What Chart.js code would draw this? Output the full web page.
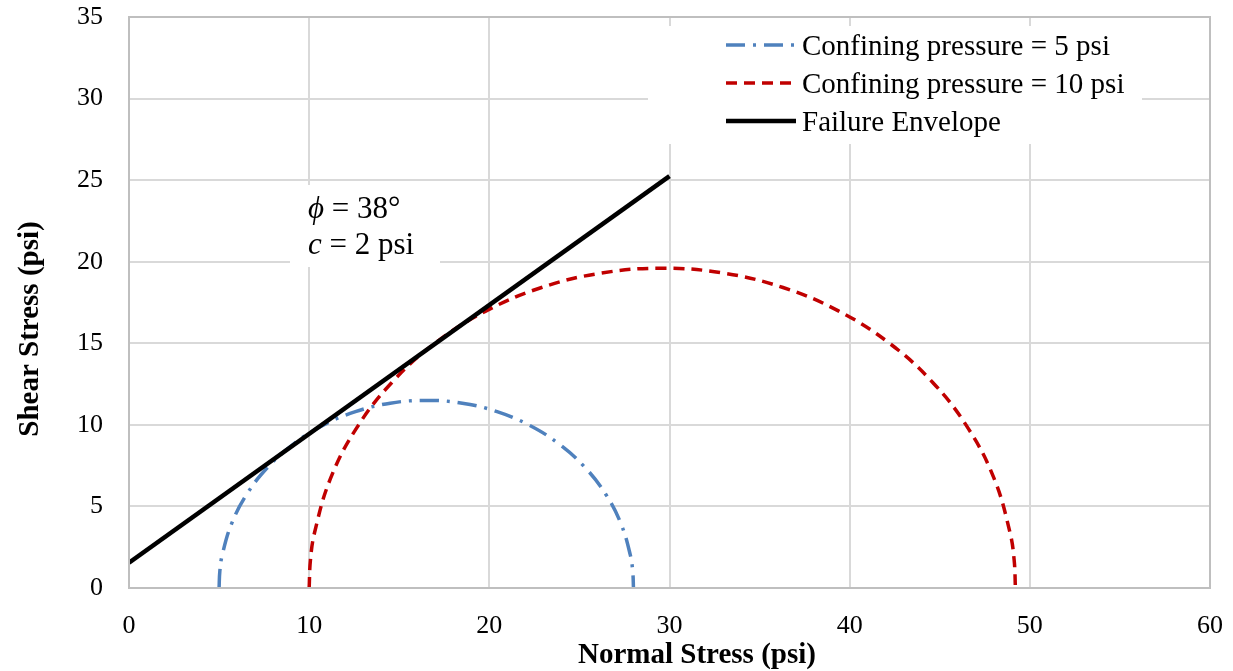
<!DOCTYPE html>
<html>
<head>
<meta charset="utf-8">
<script src="https://cdn.jsdelivr.net/npm/chart.js@4.4.1/dist/chart.umd.min.js"></script>
<style>
  html, body { margin: 0; padding: 0; background: #fff; }
  #wrap { width: 1233px; height: 671px; }
</style>
</head>
<body>
<div id="wrap"><canvas id="chart"></canvas></div>
<script>
// values
const seriesLabels = ['Confining pressure = 5 psi', 'Confining pressure = 10 psi', 'Failure Envelope'];

const circle5X = [5.0, 5.04, 5.17, 5.69, 6.54, 7.69, 9.11, 10.75, 12.57, 14.5, 16.5, 18.5, 20.43, 22.25, 23.89, 25.31, 26.46, 27.31, 27.83, 27.96, 28.0];
const circle5Y = [0, 1.0, 2.0, 3.93, 5.75, 7.39, 8.81, 9.96, 10.81, 11.33, 11.5, 11.33, 10.81, 9.96, 8.81, 7.39, 5.75, 3.93, 2.0, 1.0, 0];

const circle10X = [10.0, 10.07, 10.3, 11.18, 12.63, 14.59, 17.0, 19.8, 22.9, 26.2, 29.6, 33.0, 36.3, 39.4, 42.2, 44.61, 46.57, 48.02, 48.9, 49.13, 49.2];
const circle10Y = [0, 1.71, 3.4, 6.7, 9.8, 12.6, 15.01, 16.97, 18.42, 19.3, 19.6, 19.3, 18.42, 16.97, 15.01, 12.6, 9.8, 6.7, 3.4, 1.71, 0];

const envelopeX = [0, 30];
const envelopeY = [1.55, 25.25];

const xTicks = [0, 10, 20, 30, 40, 50, 60];
const yTicks = [0, 5, 10, 15, 20, 25, 30, 35];

const xTitle = 'Normal Stress (psi)';
const yTitle = 'Shear Stress (psi)';
const annoLines = [['ϕ', ' = 38°'], ['c', ' = 2 psi']];

const toPoints = (xs, ys) => xs.map((x, i) => ({ x: x, y: ys[i] }));

const serif = '"Liberation Serif", "Times New Roman", serif';

const boxesPlugin = {
    id: 'boxes',
    beforeDatasetsDraw(chart) {
        const ctx = chart.ctx;
        ctx.save();
        // annotation box
        ctx.fillStyle = '#fff';
        ctx.fillRect(290, 185, 150, 82);
        ctx.fillStyle = '#000';
        ctx.textBaseline = 'alphabetic';
        annoLines.forEach((parts, i) => {
            let x = 308;
            const y = 218 + i * 36;
            ctx.font = 'italic 31px ' + serif;
            ctx.fillText(parts[0], x, y);
            x += ctx.measureText(parts[0]).width;
            ctx.font = '31px ' + serif;
            ctx.fillText(parts[1], x, y);
        });
        // legend box
        ctx.fillStyle = '#fff';
        ctx.fillRect(648, 26, 494, 118);
        chart.data.datasets.forEach((ds, i) => {
            const y = 45 + i * 38;
            ctx.strokeStyle = ds.borderColor;
            ctx.lineWidth = ds.borderWidth;
            ctx.setLineDash(ds.borderDash || []);
            ctx.beginPath();
            ctx.moveTo(726, y);
            ctx.lineTo(796, y);
            ctx.stroke();
            ctx.setLineDash([]);
            ctx.fillStyle = '#000';
            ctx.font = '29px ' + serif;
            ctx.textBaseline = 'alphabetic';
            ctx.fillText(ds.label, 802, y + 10);
        });
        ctx.restore();
    },
    afterDraw(chart) {
        const a = chart.chartArea;
        const ctx = chart.ctx;
        ctx.save();
        ctx.strokeStyle = '#bfbfbf';
        ctx.lineWidth = 2;
        ctx.strokeRect(a.left, a.top, a.right - a.left, a.bottom - a.top);
        // axis titles
        ctx.fillStyle = '#000';
        ctx.font = 'bold 29px ' + serif;
        ctx.textAlign = 'center';
        ctx.textBaseline = 'alphabetic';
        ctx.fillText(xTitle, 697, 663);
        ctx.translate(38, 329);
        ctx.rotate(-Math.PI / 2);
        ctx.fillText(yTitle, 0, 0);
        ctx.restore();
    }
};

new Chart(document.getElementById('chart'), {
    type: 'scatter',
    data: {
        datasets: [
            {
                label: seriesLabels[0],
                data: toPoints(circle5X, circle5Y),
                showLine: true,
                borderColor: '#4f81bd',
                borderWidth: 3.5,
                borderDash: [19, 8, 3, 8],
                pointRadius: 0,
                tension: 0.4,
                order: 2
            },
            {
                label: seriesLabels[1],
                data: toPoints(circle10X, circle10Y),
                showLine: true,
                borderColor: '#c00000',
                borderWidth: 3.5,
                borderDash: [11, 7],
                pointRadius: 0,
                tension: 0.4,
                order: 1
            },
            {
                label: seriesLabels[2],
                data: toPoints(envelopeX, envelopeY),
                showLine: true,
                borderColor: '#000000',
                borderWidth: 4.5,
                pointRadius: 0,
                order: 0
            }
        ]
    },
    options: {
        responsive: true,
        maintainAspectRatio: false,
        animation: false,
        layout: { padding: { top: 17, right: 23, left: 0, bottom: 0 } },
        plugins: {
            legend: { display: false },
            tooltip: { enabled: false }
        },
        scales: {
            x: {
                type: 'linear',
                min: xTicks[0],
                max: xTicks[xTicks.length - 1],
                afterBuildTicks: (s) => { s.ticks = xTicks.map(v => ({ value: v })); },
                afterFit: (s) => { s.height = 83; s.paddingLeft = 0; s.paddingRight = 0; },
                grid: { color: '#d9d9d9', lineWidth: 2, drawTicks: false },
                border: { display: false },
                ticks: { padding: 23, color: '#000', font: { family: serif, size: 26 } }
            },
            y: {
                type: 'linear',
                min: yTicks[0],
                max: yTicks[yTicks.length - 1],
                afterBuildTicks: (s) => { s.ticks = yTicks.map(v => ({ value: v })); },
                afterFit: (s) => { s.width = 129; s.paddingTop = 0; s.paddingBottom = 0; },
                grid: { color: '#d9d9d9', lineWidth: 2, drawTicks: false },
                border: { display: false },
                ticks: { padding: 26, color: '#000', font: { family: serif, size: 26 } }
            }
        }
    },
    plugins: [boxesPlugin]
});
</script>
</body>
</html>
